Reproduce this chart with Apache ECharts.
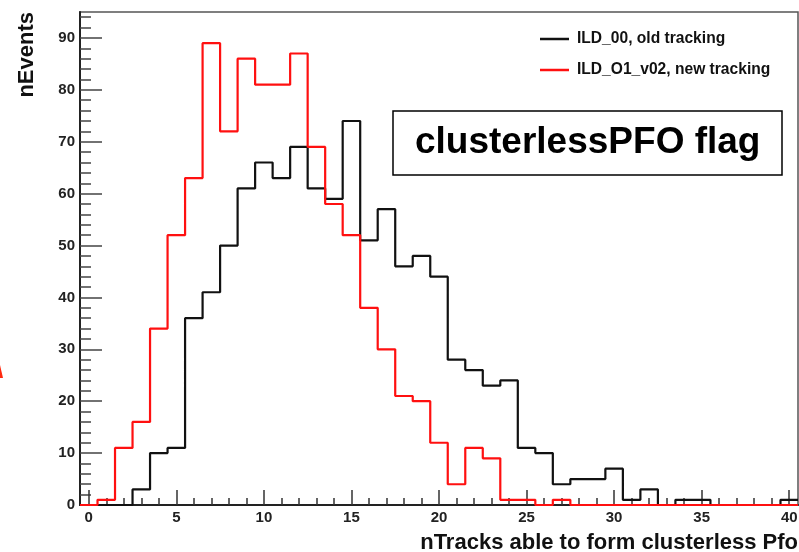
<!DOCTYPE html>
<html>
  <head>
    <meta charset="UTF-8" />
    <title>clusterlessPFO flag</title>
    <style>
      html, body { margin: 0; padding: 0; background: #fff; }
      #main { width: 799px; height: 552px; }
    </style>
    <script src="https://cdn.jsdelivr.net/npm/echarts@6/dist/echarts.min.js"></script>
  </head>
  <body>
    <div id="main"></div>
    <script>
      // bin contents, one per integer bin centre 0..40
      const binCentres = [];
      for (let i = 0; i <= 40; i++) binCentres.push(i);

      const oldTracking = [0, 0, 0, 3, 10, 11, 36, 41, 50, 61, 66, 63, 69, 61, 59, 74, 51, 57, 46, 48,
        44, 28, 26, 23, 24, 11, 10, 4, 5, 5, 7, 1, 3, 0, 1, 1, 0, 0, 0, 0, 1];
      const newTracking = [0, 1, 11, 16, 34, 52, 63, 89, 72, 86, 81, 81, 87, 69, 58, 52, 38, 30, 21, 20,
        12, 4, 11, 9, 1, 1, 0, 1, 0, 0, 0, 0, 0, 0, 0, 0, 0, 0, 0, 0, 0];

      const xMajor = [0, 5, 10, 15, 20, 25, 30, 35, 40];
      const yMajor = [0, 10, 20, 30, 40, 50, 60, 70, 80, 90];
      const xMinor = binCentres;
      const yMinor = [];
      for (let v = 0; v <= 94; v += 2) yMinor.push(v);

      const seriesNames = ['ILD_00, old tracking', 'ILD_O1_v02, new tracking'];

      // histogram outline: left edge of each bin, plus the closing right edge
      function toSteps(values) {
        const pts = values.map((v, i) => [binCentres[i] - 0.5, v]);
        pts.push([binCentres[binCentres.length - 1] + 0.5, values[values.length - 1]]);
        return pts;
      }

      const font = 'Liberation Sans, Arial, Helvetica, sans-serif';
      const chart = echarts.init(document.getElementById('main'));

      const xBase = {
        type: 'value', min: -0.5, max: 40.5, position: 'bottom',
        splitLine: { show: false }
      };
      const yBase = {
        type: 'value', min: 0, max: 95, position: 'left',
        splitLine: { show: false }
      };

      chart.setOption({
        backgroundColor: '#fff',
        animation: false,
        title: {
          text: 'clusterlessPFO flag',
          left: 393, top: 111,
          padding: [10, 22, 10, 22],
          borderColor: '#000', borderWidth: 1.5,
          textStyle: { fontFamily: font, fontWeight: 'bold', fontSize: 37, lineHeight: 44, color: '#000' }
        },
        legend: {
          orient: 'vertical', left: 540, top: 31, padding: 0,
          itemWidth: 29, itemHeight: 2.5, itemGap: 15,
          icon: 'rect',
          data: seriesNames,
          textStyle: { fontFamily: font, fontWeight: 'bold', fontSize: 15.6, color: '#111', padding: [0, 0, 0, 3] }
        },
        grid: {
          left: 80, right: 1, top: 12, bottom: 47,
          outerBoundsMode: 'none',
          show: true, borderColor: '#555', borderWidth: 1.5
        },
        xAxis: [
          Object.assign({}, xBase, {
            name: 'nTracks able to form clusterless Pfo',
            nameLocation: 'end', nameGap: 0,
            nameTextStyle: { fontFamily: font, fontWeight: 'bold', fontSize: 22, color: '#111',
              align: 'right', verticalAlign: 'top', padding: [27, 0, 0, 0] },
            axisLine: { onZero: false, lineStyle: { color: '#222', width: 2 } },
            axisTick: { inside: true, length: 15, customValues: xMajor, lineStyle: { color: '#333', width: 1.5 } },
            axisLabel: { customValues: xMajor, margin: 5, fontFamily: font, fontWeight: 'bold', fontSize: 15, color: '#222' }
          }),
          Object.assign({}, xBase, {
            axisLine: { show: false, onZero: false },
            axisTick: { inside: true, length: 7, customValues: xMinor, lineStyle: { color: '#333', width: 1.5 } },
            axisLabel: { show: false }
          })
        ],
        yAxis: [
          Object.assign({}, yBase, {
            name: 'nEvents',
            nameLocation: 'end', nameGap: 0, nameRotate: 90,
            nameTextStyle: { fontFamily: font, fontWeight: 'bold', fontSize: 22, color: '#111',
              align: 'right', verticalAlign: 'bottom', padding: [0, 0, 42, 0] },
            axisLine: { onZero: false, lineStyle: { color: '#222', width: 2 } },
            axisTick: { inside: true, length: 22, customValues: yMajor, lineStyle: { color: '#444', width: 1.5 } },
            axisLabel: { customValues: yMajor, margin: 5, fontFamily: font, fontWeight: 'bold', fontSize: 15, color: '#222' }
          }),
          Object.assign({}, yBase, {
            axisLine: { show: false, onZero: false },
            axisTick: { inside: true, length: 11, customValues: yMinor, lineStyle: { color: '#444', width: 1.5 } },
            axisLabel: { show: false }
          })
        ],
        series: [
          {
            name: seriesNames[0], type: 'line', step: 'end', symbol: 'none', clip: false,
            data: toSteps(oldTracking),
            lineStyle: { color: '#111', width: 2.2 }, itemStyle: { color: '#111' }, z: 3
          },
          {
            name: seriesNames[1], type: 'line', step: 'end', symbol: 'none', clip: false,
            data: toSteps(newTracking),
            lineStyle: { color: '#ff1010', width: 2.2 }, itemStyle: { color: '#ff1010' }, z: 4
          }
        ],
        graphic: [
          { type: 'polygon', shape: { points: [[0, 365], [3, 378], [0, 378]] }, style: { fill: '#ff2a10' } }
        ]
      });
    </script>
  </body>
</html>
